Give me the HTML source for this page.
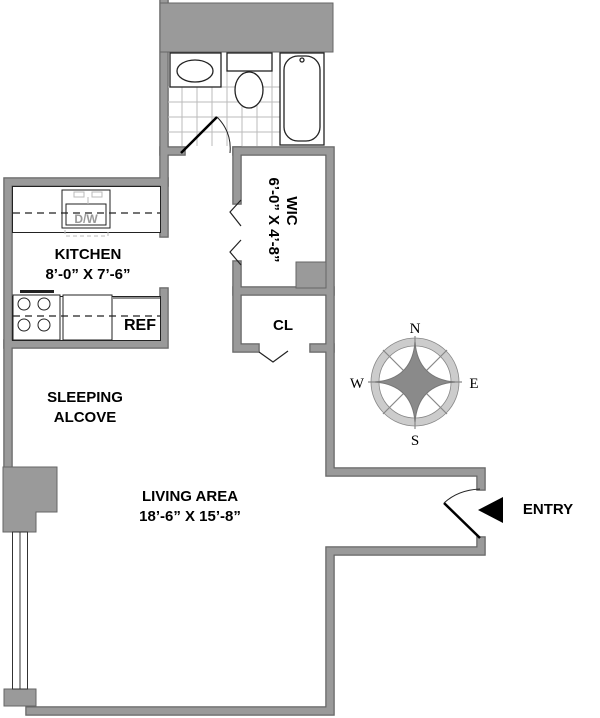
<!DOCTYPE html>
<html><head><meta charset="utf-8"><style>
html,body{margin:0;padding:0;background:#fff;width:600px;height:718px;overflow:hidden}
svg{display:block}
text{font-family:"Liberation Sans",Arial,sans-serif;font-weight:bold;fill:#000}
</style></head><body>
<svg width="600" height="718" viewBox="0 0 600 718" xmlns="http://www.w3.org/2000/svg">
<g fill="none" stroke-linecap="square" stroke-linejoin="miter">
<g stroke="#666" stroke-width="9.5">
<path d="M164 3 V233"/>
<path d="M8 467 V182 H164"/>
<path d="M164 292 V344 H8"/>
<path d="M164 151 H181"/>
<path d="M237 151 H330 V472 H481 V486"/>
<path d="M481 541 V551 H330 V711 H30"/>
<path d="M237 151 V200"/>
<path d="M237 265 V348 H255"/>
<path d="M237 291 H330"/>
<path d="M314 348 H330"/>
</g>
<g stroke="#9a9a9a" stroke-width="7">
<path d="M164 3 V233"/>
<path d="M8 467 V182 H164"/>
<path d="M164 292 V344 H8"/>
<path d="M164 151 H181"/>
<path d="M237 151 H330 V472 H481 V486"/>
<path d="M481 541 V551 H330 V711 H30"/>
<path d="M237 151 V200"/>
<path d="M237 265 V348 H255"/>
<path d="M237 291 H330"/>
<path d="M314 348 H330"/>
</g>
</g>
<rect x="160" y="3" width="173" height="49" fill="#9a9a9a" stroke="#666" stroke-width="1"/>
<rect x="296" y="262" width="30" height="26" fill="#9a9a9a" stroke="#666" stroke-width="1"/>
<path d="M3 467 H57 V512 H36 V532 H3 Z" fill="#9a9a9a" stroke="#666" stroke-width="1"/>
<path d="M4 689 H36 V706 H4 Z" fill="#9a9a9a" stroke="#666" stroke-width="1"/>
<g stroke="#333" stroke-width="1" fill="none">
<rect x="12.5" y="532" width="15" height="157"/>
<line x1="20" y1="532" x2="20" y2="689"/>
</g>
<g stroke="#bbb" stroke-width="1">
<line x1="168" y1="87" x2="280" y2="87"/><line x1="168" y1="102" x2="280" y2="102"/>
<line x1="168" y1="117" x2="280" y2="117"/><line x1="168" y1="132" x2="280" y2="132"/>
<line x1="182" y1="87" x2="182" y2="146"/><line x1="197" y1="87" x2="197" y2="146"/>
<line x1="212" y1="87" x2="212" y2="146"/><line x1="227" y1="71" x2="227" y2="146"/>
<line x1="242" y1="105" x2="242" y2="146"/><line x1="257" y1="105" x2="257" y2="146"/>
<line x1="272" y1="71" x2="272" y2="146"/>
</g>
<g stroke="#222" stroke-width="1.3" fill="#fff">
<rect x="170" y="53" width="51" height="34"/>
<ellipse cx="195" cy="71" rx="18" ry="11"/>
<rect x="227" y="53" width="45" height="18"/>
<ellipse cx="249" cy="90" rx="14" ry="18"/>
<rect x="280" y="53" width="44" height="92"/>
<rect x="284" y="56" width="36" height="85" rx="14"/>
<circle cx="302" cy="60" r="2"/>
</g>
<line x1="181" y1="153" x2="217" y2="117" stroke="#000" stroke-width="2.5"/>
<path d="M217 117 Q232 132 230 153" fill="none" stroke="#222" stroke-width="1"/>
<g stroke="#222" stroke-width="1.2" fill="none">
<path d="M241 200 L230 212 L241 226"/>
<path d="M241 240 L230 252 L241 265"/>
<path d="M259 352 L273 362 L288 351"/>
</g>
<g stroke="#222" stroke-width="1" fill="#fff">
<rect x="12.5" y="186.5" width="148" height="46"/>
<rect x="62" y="190" width="48" height="38"/>
<rect x="66" y="204" width="40" height="21" fill="none"/>
<rect x="12.5" y="296.5" width="148" height="44"/>
<rect x="13" y="295" width="47" height="45"/>
<rect x="63" y="295" width="49" height="45"/>
<line x1="113" y1="298" x2="160" y2="298"/>
</g>
<rect x="20" y="290" width="34" height="3" fill="#222"/>
<g stroke="#bbb" stroke-width="1" fill="none">
<rect x="74" y="192" width="10" height="5"/><rect x="92" y="192" width="10" height="5"/>
<line x1="88" y1="197" x2="88" y2="204"/>
<path d="M65 230 V236 H108 V230" stroke-dasharray="4 3"/>
</g>
<text x="86" y="223" text-anchor="middle" font-size="12" style="fill:#999">D/W</text>
<g stroke="#222" stroke-width="1" fill="none">
<circle cx="24" cy="304" r="6"/><circle cx="44" cy="304" r="6"/>
<circle cx="24" cy="325" r="6"/><circle cx="44" cy="325" r="6"/>
</g>
<g stroke="#222" stroke-width="1.2" stroke-dasharray="7 5">
<line x1="13" y1="213" x2="160" y2="213"/>
<line x1="13" y1="316" x2="160" y2="316"/>
</g>
<line x1="480" y1="538" x2="444" y2="503" stroke="#000" stroke-width="2.5"/>
<path d="M444 503 Q458 490 480 489" fill="none" stroke="#222" stroke-width="1"/>
<polygon points="478,510 503,497 503,523" fill="#000"/>
<g>
<circle cx="415" cy="382" r="40" fill="none" stroke="#ccc" stroke-width="8"/>
<circle cx="415" cy="382" r="44" fill="none" stroke="#888" stroke-width="0.8"/>
<circle cx="415" cy="382" r="36" fill="none" stroke="#888" stroke-width="0.8"/>
<g stroke="#888" stroke-width="1.2">
<line x1="415" y1="336" x2="415" y2="429"/>
<line x1="368" y1="382" x2="462" y2="382"/>
<line x1="383" y1="350" x2="447" y2="414"/>
<line x1="447" y1="350" x2="383" y2="414"/>
</g>
<path d="M415 342 Q418 379 455 382 Q418 385 415 422 Q412 385 375 382 Q412 379 415 342 Z" fill="#8a8a8a" stroke="#777"/>
<text x="415" y="333" text-anchor="middle" font-size="15" style="font-family:'Liberation Serif',serif;font-weight:normal">N</text>
<text x="415" y="445" text-anchor="middle" font-size="15" style="font-family:'Liberation Serif',serif;font-weight:normal">S</text>
<text x="357" y="388" text-anchor="middle" font-size="15" style="font-family:'Liberation Serif',serif;font-weight:normal">W</text>
<text x="474" y="388" text-anchor="middle" font-size="15" style="font-family:'Liberation Serif',serif;font-weight:normal">E</text>
</g>
<g font-size="15" text-anchor="middle">
<text x="88" y="259">KITCHEN</text>
<text x="88" y="279">8’-0” X 7’-6”</text>
<text x="140" y="330" font-size="16">REF</text>
<text x="85" y="402">SLEEPING</text>
<text x="85" y="422">ALCOVE</text>
<text x="190" y="501">LIVING AREA</text>
<text x="190" y="521">18’-6” X 15’-8”</text>
<text x="283" y="330">CL</text>
<text x="548" y="514">ENTRY</text>
<text transform="translate(287,211) rotate(90)">WIC</text>
<text transform="translate(269,220) rotate(90)">6’-0” X 4’-8”</text>
</g>
</svg>
</body></html>
